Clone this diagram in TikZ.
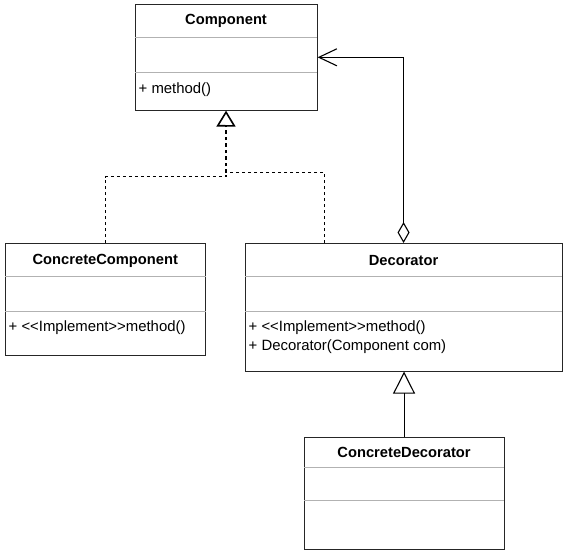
\documentclass[tikz,border=0pt]{standalone}
\usepackage{fontspec}
\newfontfamily\umlfont{Liberation Sans}
\usetikzlibrary{arrows.meta,calc}
\begin{document}
\begin{tikzpicture}[x=1pt,y=-1pt,
  umlbox/.style={draw=black!85, line width=1.1pt, fill=white, inner sep=0pt, anchor=north west},
  ttl/.style={font=\umlfont\fontsize{14.7}{17}\selectfont\bfseries, inner sep=0pt},
  meth/.style={font=\umlfont\fontsize{14.9}{17}\selectfont, inner sep=0pt, anchor=west},
  div/.style={draw=black!30, line width=1pt},
  conn/.style={draw=black, line width=1.1pt},
  dashconn/.style={draw=black, line width=1.1pt, dash pattern=on 3pt off 3pt},
]
\useasboundingbox (0,0) rectangle (573,557);
% Component
\node[umlbox, minimum width=182pt, minimum height=105.5pt] (comp) at (134.5,4) {};
\node[ttl] (compT) at ($(comp.north)+(0,17)$) {Component};
\draw[div] ($(comp.north west)+(0.6,33)$) -- ($(comp.north east)+(-0.6,33)$);
\draw[div] ($(comp.north west)+(0.6,68)$) -- ($(comp.north east)+(-0.6,68)$);
\node[meth] (compM) at ($(comp.north west)+(4,86)$) {+ method()};
% ConcreteComponent
\node[umlbox, minimum width=200.5pt, minimum height=112pt] (cc) at (4.5,243) {};
\node[ttl] (ccT) at ($(cc.north)+(0,18)$) {ConcreteComponent};
\draw[div] ($(cc.north west)+(0.6,33)$) -- ($(cc.north east)+(-0.6,33)$);
\draw[div] ($(cc.north west)+(0.6,68)$) -- ($(cc.north east)+(-0.6,68)$);
\node[meth] (ccM) at ($(cc.north west)+(4,85)$) {+ <<Implement>>method()};
% Decorator
\node[umlbox, minimum width=317pt, minimum height=127.5pt] (dec) at (244.5,243) {};
\node[ttl] (decT) at ($(dec.north)+(0,18)$) {Decorator};
\draw[div] ($(dec.north west)+(0.6,33)$) -- ($(dec.north east)+(-0.6,33)$);
\draw[div] ($(dec.north west)+(0.6,68)$) -- ($(dec.north east)+(-0.6,68)$);
\node[meth] (decM1) at ($(dec.north west)+(4,85)$) {+ <<Implement>>method()};
\node[meth] (decM2) at ($(dec.north west)+(4,104)$) {+ Decorator(Component com)};
% ConcreteDecorator
\node[umlbox, minimum width=200pt, minimum height=112.5pt] (cd) at (303.5,436.5) {};
\node[ttl] (cdT) at ($(cd.north)+(0,15.5)$) {ConcreteDecorator};
\draw[div] ($(cd.north west)+(0.6,30.5)$) -- ($(cd.north east)+(-0.6,30.5)$);
\draw[div] ($(cd.north west)+(0.6,64)$) -- ($(cd.north east)+(-0.6,64)$);
% Realization connectors
\coordinate (j1) at (226,176.5);
\coordinate (j2) at (226,172.5);
\coordinate (tb) at (226,126);
\coordinate (dr) at (324.5,243);
\draw[dashconn] (cc.north) |- (j1) -- (j2);
\draw[dashconn] (dr) |- (j2);
\draw[draw=black, line width=2.6pt, dash pattern=on 3.5pt off 3pt] (j2) -- (tb);
\draw[conn, -{Triangle[open, length=16pt, width=19pt, line width=1.6pt]}] (tb) -- (comp.south);
% Aggregation
\draw[conn, {Diamond[open, length=21pt, width=12pt, line width=1.1pt]}-{Straight Barb[length=18pt, width=17pt, line width=1.1pt]}] (dec.north) |- (comp.east);
% Generalization
\draw[conn, -{Triangle[open, length=22pt, width=22pt, line width=1.1pt]}] (cd.north) -- (cd.north |- dec.south);
\end{tikzpicture}
\end{document}
